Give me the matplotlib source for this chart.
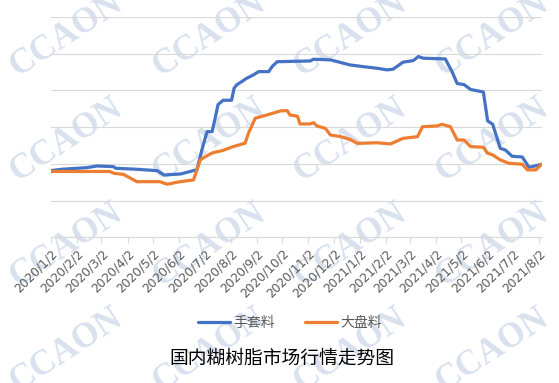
import numpy as np
import pandas as pd
import matplotlib
matplotlib.use('Agg')
import matplotlib.pyplot as plt

plt.rcParams['font.family'] = ['Noto Sans CJK SC', 'DejaVu Sans']

# 手套料 (glove grade)
glove_dates = ['2020-01-02', '2020-01-15', '2020-02-14', '2020-02-26', '2020-03-16',
               '2020-03-19', '2020-04-13', '2020-05-07', '2020-05-15', '2020-06-04',
               '2020-06-23', '2020-06-29', '2020-07-05', '2020-07-11', '2020-07-15',
               '2020-07-18', '2020-07-24', '2020-08-03', '2020-08-06', '2020-08-09',
               '2020-08-15', '2020-08-21', '2020-08-29', '2020-09-04', '2020-09-16',
               '2020-09-20', '2020-09-26', '2020-11-04', '2020-11-08', '2020-11-28',
               '2020-12-06', '2020-12-21', '2021-01-06', '2021-01-22', '2021-02-03',
               '2021-02-10', '2021-02-22', '2021-03-06', '2021-03-12', '2021-03-18',
               '2021-04-13', '2021-04-21', '2021-04-27', '2021-05-05', '2021-05-13',
               '2021-05-28', '2021-06-02', '2021-06-08', '2021-06-17', '2021-06-23',
               '2021-07-01', '2021-07-13', '2021-07-21', '2021-08-05']
glove_values = [7260, 7410, 7590, 7770, 7700,
                7520, 7410, 7260, 6790, 6900,
                7370, 9560, 11510, 11510, 13150,
                14460, 14930, 14930, 16240, 16600,
                16960, 17330, 17700, 18050, 18050,
                18600, 19130, 19210, 19400, 19330,
                19140, 18780, 18590, 18420, 18240,
                18310, 19080, 19250, 19690, 19510,
                19430, 18020, 16750, 16640, 16100,
                15830, 12680, 12320, 9690, 9510,
                8830, 8750, 7620, 7950]

# 大盘料 (general grade)
general_dates = ['2020-01-02', '2020-03-12', '2020-03-17', '2020-03-28', '2020-04-13',
                 '2020-05-10', '2020-05-19', '2020-06-03', '2020-06-19', '2020-06-27',
                 '2020-07-03', '2020-07-12', '2020-07-23', '2020-08-05', '2020-08-19',
                 '2020-08-23', '2020-08-31', '2020-09-14', '2020-09-30', '2020-10-08',
                 '2020-10-11', '2020-10-20', '2020-10-23', '2020-11-04', '2020-11-08',
                 '2020-11-12', '2020-11-22', '2020-11-28', '2020-12-10', '2020-12-21',
                 '2020-12-30', '2021-01-22', '2021-02-07', '2021-02-22', '2021-03-11',
                 '2021-03-17', '2021-04-03', '2021-04-09', '2021-04-19', '2021-04-27',
                 '2021-05-05', '2021-05-13', '2021-05-28', '2021-06-02', '2021-06-08',
                 '2021-06-17', '2021-06-27', '2021-07-13', '2021-07-19', '2021-07-29',
                 '2021-08-05']
general_values = [7170, 7170, 6970, 6860, 6060,
                  6060, 5780, 6060, 6250, 8430,
                  8790, 9220, 9440, 9880, 10250,
                  11340, 12970, 13330, 13770, 13800,
                  13330, 13190, 12350, 12350, 12490,
                  12130, 11870, 11150, 10970, 10670,
                  10230, 10300, 10170, 10780, 10960,
                  12050, 12130, 12310, 12050, 10600,
                  10600, 9880, 9810, 9160, 8980,
                  8430, 8070, 7960, 7340, 7340,
                  7960]

tick_dates = pd.date_range('2020-01-01', '2021-08-01', freq='MS') + pd.Timedelta(days=1)
tick_labels = [f'{d.year}/{d.month}/{d.day}' for d in tick_dates]

fig = plt.figure(figsize=(5.59, 3.83), dpi=100)
ax = fig.add_axes([50.7 / 559, 1 - 237.3 / 383, (541.7 - 50.7) / 559, (237.3 - 17) / 383])
ax.set_facecolor('none')

# watermark
for xc in [66, 209, 350, 492]:
    for yc in [35, 140, 245, 350]:
        fig.text(xc / 559, 1 - yc / 383, 'CCAON', family='Liberation Serif', weight='bold',
                 fontsize=25, color='#d9e1ee', rotation=33, ha='center', va='center', zorder=-1)

ax.plot(pd.to_datetime(glove_dates), glove_values, color='#4472C4', lw=2.3,
        label='手套料', solid_capstyle='round', solid_joinstyle='round', zorder=3)
ax.plot(pd.to_datetime(general_dates), general_values, color='#ED7D31', lw=2.3,
        label='大盘料', solid_capstyle='round', solid_joinstyle='round', zorder=3)

ax.set_xlim(pd.Timestamp('2020-01-02'), pd.Timestamp('2021-08-05'))
ax.set_ylim(0, 24000)
ax.set_yticks(np.arange(0, 24001, 4000))
ax.yaxis.grid(True, color='#d9d9d9', lw=0.8)
ax.set_axisbelow(True)
ax.tick_params(axis='y', left=False, labelleft=False)
for s in ['left', 'right', 'top']:
    ax.spines[s].set_visible(False)
ax.spines['bottom'].set_color('#d9d9d9')
ax.spines['bottom'].set_linewidth(0.8)

ax.set_xticks(tick_dates)
ax.set_xticklabels(tick_labels, rotation=45, ha='right', va='top',
                   rotation_mode='anchor', fontsize=8.8, color='#595959', family='DejaVu Sans')
ax.tick_params(axis='x', direction='out', length=4, color='#d9d9d9', width=0.8, pad=3)

leg = fig.legend(loc='center', bbox_to_anchor=(290 / 559, 1 - 323 / 383), ncol=2,
                 frameon=False, fontsize=10, handlelength=2.3, handletextpad=0.2,
                 columnspacing=2.2)
for t in leg.get_texts():
    t.set_color('#595959')

fig.text(282 / 559, 1 - 358 / 383, '国内糊树脂市场行情走势图', ha='center', va='center',
         fontsize=13.5, color='#000000')

fig.savefig('out.png', dpi=100)
